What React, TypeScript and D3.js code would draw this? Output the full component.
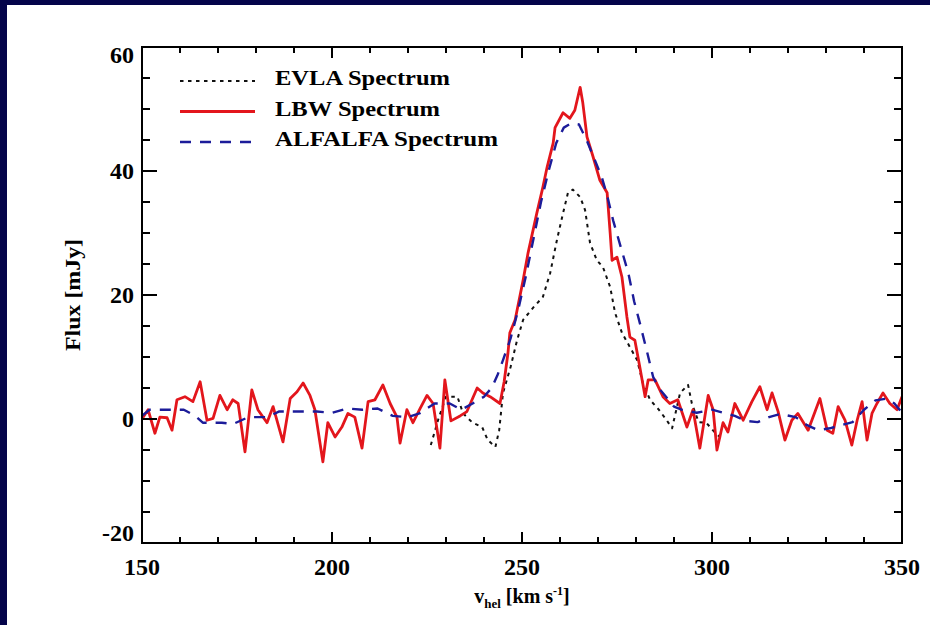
import React from 'react';
import * as d3 from 'd3';

// axis labels
const xTickLabels = [150, 200, 250, 300, 350];
const yTickLabels = [-20, 0, 20, 40, 60];

// LBW spectrum (red)
const lbwVel = [
  150.0, 151.6, 153.4, 154.7, 156.6, 157.9, 159.2, 161.3, 163.4, 165.3, 167.1, 168.7, 170.5, 172.4, 173.9,
  175.3, 177.1, 178.9, 180.5, 182.9, 184.5, 187.1, 189.0, 190.8, 192.4, 194.2, 195.5, 197.6, 198.9, 200.8,
  202.6, 204.2, 206.0, 207.9, 209.5, 211.3, 213.4, 215.3, 217.1, 217.9, 219.7, 221.3, 223.2, 225.0, 226.6,
  228.4, 229.7, 231.3, 233.7, 235.5, 238.2, 239.7, 241.6, 244.2, 245.3, 246.3, 246.8, 248.2, 250.3, 251.6,
  253.9, 255.5, 256.6, 258.2, 258.7, 260.8, 262.6, 263.9, 265.3, 266.0, 267.1, 268.7, 270.5, 272.4, 273.2,
  273.7, 275.0, 276.3, 277.6, 278.4, 279.7, 281.0, 282.4, 283.2, 285.0, 287.1, 288.9, 291.0, 293.4, 295.0,
  296.8, 299.0, 300.3, 301.3, 302.9, 304.2, 306.0, 308.2, 310.5, 312.6, 314.5, 315.8, 317.4, 319.2, 321.0,
  322.6, 325.3, 328.4, 330.3, 331.8, 333.2, 335.0, 336.8, 338.2, 339.5, 340.8, 342.1, 343.4, 345.0, 346.8,
  348.7, 350.0,
];
const lbwFlux = [
  0.0, 1.5, -2.3, 0.3, 0.2, -1.8, 3.1, 3.6, 2.8, 6.0, -0.2, 0.1, 3.8, 1.5, 3.1,
  2.5, -5.3, 4.7, 1.5, -0.6, 2.0, -3.7, 3.3, 4.4, 5.8, 3.8, 1.5, -6.9, -0.6, -2.9,
  -1.3, 0.9, 0.3, -4.7, 2.8, 3.1, 5.5, 2.5, 0.3, -3.9, 1.5, -0.6, 1.7, 3.8, 2.5,
  -4.7, 6.3, -0.3, 0.5, 1.2, 5.0, 4.2, 3.6, 2.5, 6.0, 10.6, 13.9, 16.0, 22.4, 26.8,
  33.2, 37.4, 40.6, 44.5, 47.0, 49.4, 48.5, 49.8, 53.5, 51.0, 45.5, 42.3, 38.5, 36.5, 30.0,
  25.6, 26.1, 22.9, 16.5, 13.2, 12.7, 8.4, 3.6, 6.3, 6.3, 3.6, 2.5, 3.1, -1.3, 1.5,
  -4.7, 3.8, 1.5, -5.0, -0.6, -2.1, 2.5, -0.2, 2.8, 5.2, 1.5, 4.2, 1.2, -3.4, -0.2,
  0.9, -1.8, 3.3, -1.8, -2.3, 2.0, -0.2, -4.2, -0.2, 2.8, -3.4, 0.9, 2.5, 4.2, 2.5,
  1.5, 3.6,
];

// ALFALFA spectrum (blue dashed)
const alfalfaVel = [
  150, 152, 157, 161, 164, 166, 171, 174, 178, 183, 186, 191, 196, 200, 204, 208, 212, 216, 220, 223,
  227, 231, 234, 237, 240, 242, 243.5, 245, 247, 249, 251, 253, 255, 257, 259, 261, 263, 265, 267, 269,
  271, 272.5, 274, 276, 278, 279.5, 281, 283, 284.5, 286, 288, 290, 292, 296, 300, 303, 306, 309, 312, 315,
  318, 322, 325, 328, 331, 334, 337, 340, 343, 346, 348, 350,
];
const alfalfaFlux = [
  0.5, 1.5, 1.5, 1.5, 0.5, -0.6, -0.6, -0.8, 0.3, 0.3, 1.2, 1.2, 1.2, 1.0, 1.7, 1.5, 1.7, 0.5, 0.3, 0.9,
  2.5, 2.5, 1.5, 2.5, 3.6, 5.0, 7.0, 9.5, 13.0, 17.6, 23.0, 29.0, 35.0, 40.0, 44.5, 47.0, 47.7, 47.5, 45.0, 42.0,
  39.0, 35.8, 32.0, 27.7, 23.5, 19.0, 15.5, 10.6, 6.8, 5.0, 3.5, 2.0, 1.5, 1.0, 1.5, 1.0, 0.5, -0.3, -0.5, 0.3,
  0.8, 0.3, -1.0, -1.8, -1.5, -1.0, -0.5, 1.5, 3.0, 3.3, 2.5, 1.0,
];

// EVLA spectrum (black dotted)
const evlaVel = [
  226.0, 228.0, 230.0, 233.0, 234.5, 237.0, 239.5, 241.0, 243.0, 244.0, 245.0, 247.0, 248.7, 250.3, 253.0,
  255.5, 257.4, 259.2, 260.8, 262.1, 263.4, 265.3, 266.6, 267.9, 269.7, 271.3, 273.2, 274.5, 276.3, 278.4,
  280.3, 281.8, 283.7, 286.0, 288.2, 289.5, 291.6, 293.7, 294.7, 296.5, 298.5, 300.5, 302.9,
];
const evlaFlux = [
  -4.2, 0.0, 3.6, 3.6, 0.9, -0.6, -1.3, -3.4, -4.5, -1.8, 4.2, 8.4, 12.7, 16.0, 18.0,
  19.7, 23.5, 28.9, 33.2, 36.5, 37.0, 35.8, 33.7, 28.4, 25.6, 24.5, 21.3, 17.1, 13.9, 11.6,
  9.5, 5.8, 3.1, 1.5, -0.3, -1.5, 4.2, 5.5, 2.5, -0.5, -0.6, -2.0, -3.4,
];

const legendNames = ['EVLA Spectrum', 'LBW Spectrum', 'ALFALFA Spectrum'];

const FONT = '"Liberation Serif", "DejaVu Serif", serif';

export default function App() {
  const width = 930;
  const height = 625;
  const left = 142, right = 902, top = 47, bottom = 543;

  const x = d3.scaleLinear().domain([150, 350]).range([left, right]);
  const y = d3.scaleLinear().domain([-20, 60]).range([bottom, top]);

  const path = (vel: number[], flux: number[]) =>
    d3.line<number>()
      .x(i => x(vel[i]))
      .y(i => y(flux[i]))(d3.range(vel.length)) || '';

  const series = [
    { d: path(evlaVel, evlaFlux), color: '#111', width: 2, dash: '3.5 4.5' },
    { d: path(lbwVel, lbwFlux), color: '#e3161c', width: 2.8, dash: '' },
    { d: path(alfalfaVel, alfalfaFlux), color: '#1c1c9a', width: 2.4, dash: '11 9' },
  ];
  const legendLens = [175, 165, 223];

  const xMinor = d3.range(150, 351, 10);
  const yMinor = d3.range(-20, 61, 5);

  return (
    <svg width={width} height={height} style={{ position: 'absolute', left: 0, top: 0 }}
      fontFamily={FONT} fontWeight="bold">
      <rect width={width} height={height} fill="#04044a" />
      <rect x={7} y={5} width={width - 7} height={height - 5} fill="#fff" />
      <defs>
        <clipPath id="plot-clip">
          <rect x={left} y={top} width={right - left} height={bottom - top} />
        </clipPath>
      </defs>

      <g clipPath="url(#plot-clip)">
        {series.map((s, i) => (
          <path key={i} d={s.d} fill="none" stroke={s.color} strokeWidth={s.width}
            strokeDasharray={s.dash || undefined} strokeLinejoin="round" />
        ))}
      </g>

      {/* frame */}
      <rect x={left} y={top} width={right - left} height={bottom - top} fill="none" stroke="#000" strokeWidth={2} />

      {/* x ticks, bottom and top */}
      {xMinor.map(v => {
        const len = v % 50 === 0 ? 11 : 6;
        return (
          <g key={'xt' + v} stroke="#000" strokeWidth={2}>
            <line x1={x(v)} x2={x(v)} y1={bottom} y2={bottom - len} />
            <line x1={x(v)} x2={x(v)} y1={top} y2={top + len} />
          </g>
        );
      })}
      {/* y ticks, left and right */}
      {yMinor.map(v => {
        const len = v % 20 === 0 ? 15 : 8;
        return (
          <g key={'yt' + v} stroke="#000" strokeWidth={2}>
            <line x1={left} x2={left + len} y1={y(v)} y2={y(v)} />
            <line x1={right} x2={right - len} y1={y(v)} y2={y(v)} />
          </g>
        );
      })}

      {xTickLabels.map(v => (
        <text key={'xl' + v} x={x(v)} y={bottom + 32} textAnchor="middle" fontSize={24}>{v}</text>
      ))}
      {yTickLabels.map(v => {
        const ly = Math.min(Math.max(y(v), top + 8), bottom - 10);
        return (
          <text key={'yl' + v} x={left - 8} y={ly + 8} textAnchor="end" fontSize={24}>{v}</text>
        );
      })}

      {/* axis titles */}
      <text x={(left + right) / 2} y={603} textAnchor="middle" fontSize={20}>
        v<tspan fontSize={13} dy={5}>hel</tspan>
        <tspan dy={-5}> [km s</tspan>
        <tspan fontSize={12} dy={-8}>-1</tspan>
        <tspan dy={8}>]</tspan>
      </text>
      <text transform={`translate(80,${(top + bottom) / 2}) rotate(-90)`} textAnchor="middle" fontSize={20}
        textLength={112} lengthAdjust="spacingAndGlyphs">
        Flux [mJy]
      </text>

      {/* legend */}
      {legendNames.map((name, i) => {
        const base = 85 + i * 30.5;
        const s = series[i];
        return (
          <g key={name}>
            <line x1={180} x2={255} y1={base - 4} y2={base - 4} stroke={s.color} strokeWidth={s.width}
              strokeDasharray={s.dash || undefined} />
            <text x={275} y={base} fontSize={22} textLength={legendLens[i]} lengthAdjust="spacingAndGlyphs">{name}</text>
          </g>
        );
      })}
    </svg>
  );
}
